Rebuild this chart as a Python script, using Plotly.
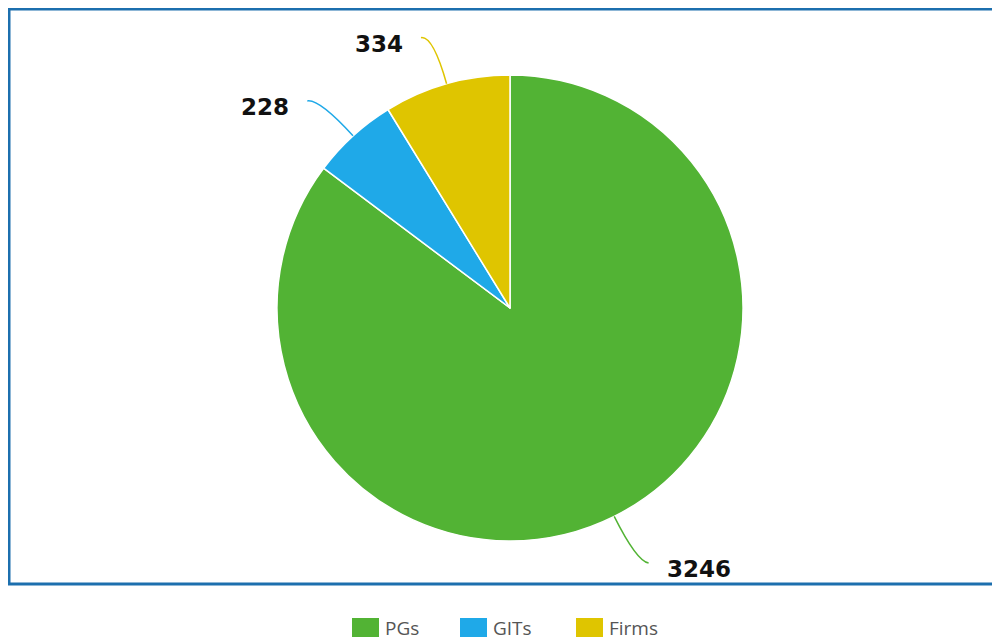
import math
import plotly.graph_objects as go

# ---- data ----
categories = ["PGs", "GITs", "Firms"]
values = [3246, 228, 334]
colors = ["#52B334", "#1FA9E8", "#DFC500"]

# ---- layout constants (page pixels) ----
PAGE_W, PAGE_H = 1000, 642
OFF = 8                      # body margin of the html page
W, H = PAGE_W - OFF, PAGE_H - OFF
CX, CY, R = 510, 308, 233
LEGEND_X = [352, 460, 576]
LEGEND_Y = 627

fig = go.Figure()
fig.add_trace(go.Pie(
    labels=categories, values=values, sort=False, direction="clockwise",
    rotation=0, marker=dict(colors=colors, line=dict(color="white", width=1.5)),
    textinfo="none", hoverinfo="label+value", showlegend=False,
    domain=dict(x=[(CX - R - OFF) / W, (CX + R - OFF) / W],
                y=[1 - (CY + R - OFF) / H, 1 - (CY - R - OFF) / H]),
))

shapes = []
annotations = []

# frame
shapes.append(dict(type="rect", xref="x", yref="y", x0=9, x1=1010, y0=9, y1=584,
                   line=dict(color="#1C6FAE", width=3), fillcolor="rgba(0,0,0,0)", layer="below"))

# outside labels with curved leader lines, positioned from the slice mid-angles
total = sum(values)
cum = 0
for cat, v, col in zip(categories, values, colors):
    mid = (cum + v / 2) / total * 2 * math.pi
    cum += v
    ux, uy = math.sin(mid), -math.cos(mid)
    side = 1 if ux >= 0 else -1
    x0, y0 = CX + R * ux, CY + R * uy
    x1, y1 = CX + (R + 50) * ux, CY + (R + 50) * uy
    x2, y2 = x1 + side * 12, y1 + 2
    shapes.append(dict(type="path", xref="x", yref="y",
                       path=f"M{x0:.1f},{y0:.1f} Q{x1:.1f},{y1:.1f} {x2:.1f},{y2:.1f}",
                       line=dict(color=col, width=1.5)))
    annotations.append(dict(xref="x", yref="y", x=x2 + side * 16, y=y2 + 6,
                            text=f"<b>{v}</b>", showarrow=False,
                            xanchor="left" if side > 0 else "right", yanchor="middle",
                            font=dict(family="DejaVu Sans", size=23, color="#111111")))

# legend
for cat, col, lx in zip(categories, colors, LEGEND_X):
    shapes.append(dict(type="rect", xref="x", yref="y", x0=lx, x1=lx + 27,
                       y0=LEGEND_Y - 9, y1=LEGEND_Y + 10, fillcolor=col, line=dict(width=0)))
    annotations.append(dict(xref="x", yref="y", x=lx + 31, y=LEGEND_Y + 1, text=cat,
                            showarrow=False, xanchor="left", yanchor="middle",
                            font=dict(family="Open Sans", size=19, color="#555555")))

fig.update_layout(
    width=W, height=H, margin=dict(l=0, r=0, t=0, b=0),
    paper_bgcolor="white", plot_bgcolor="white",
    xaxis=dict(range=[OFF, PAGE_W], visible=False, fixedrange=True),
    yaxis=dict(range=[PAGE_H, OFF], visible=False, fixedrange=True),
    shapes=shapes, annotations=annotations, showlegend=False,
)

fig.write_html("out.html")
